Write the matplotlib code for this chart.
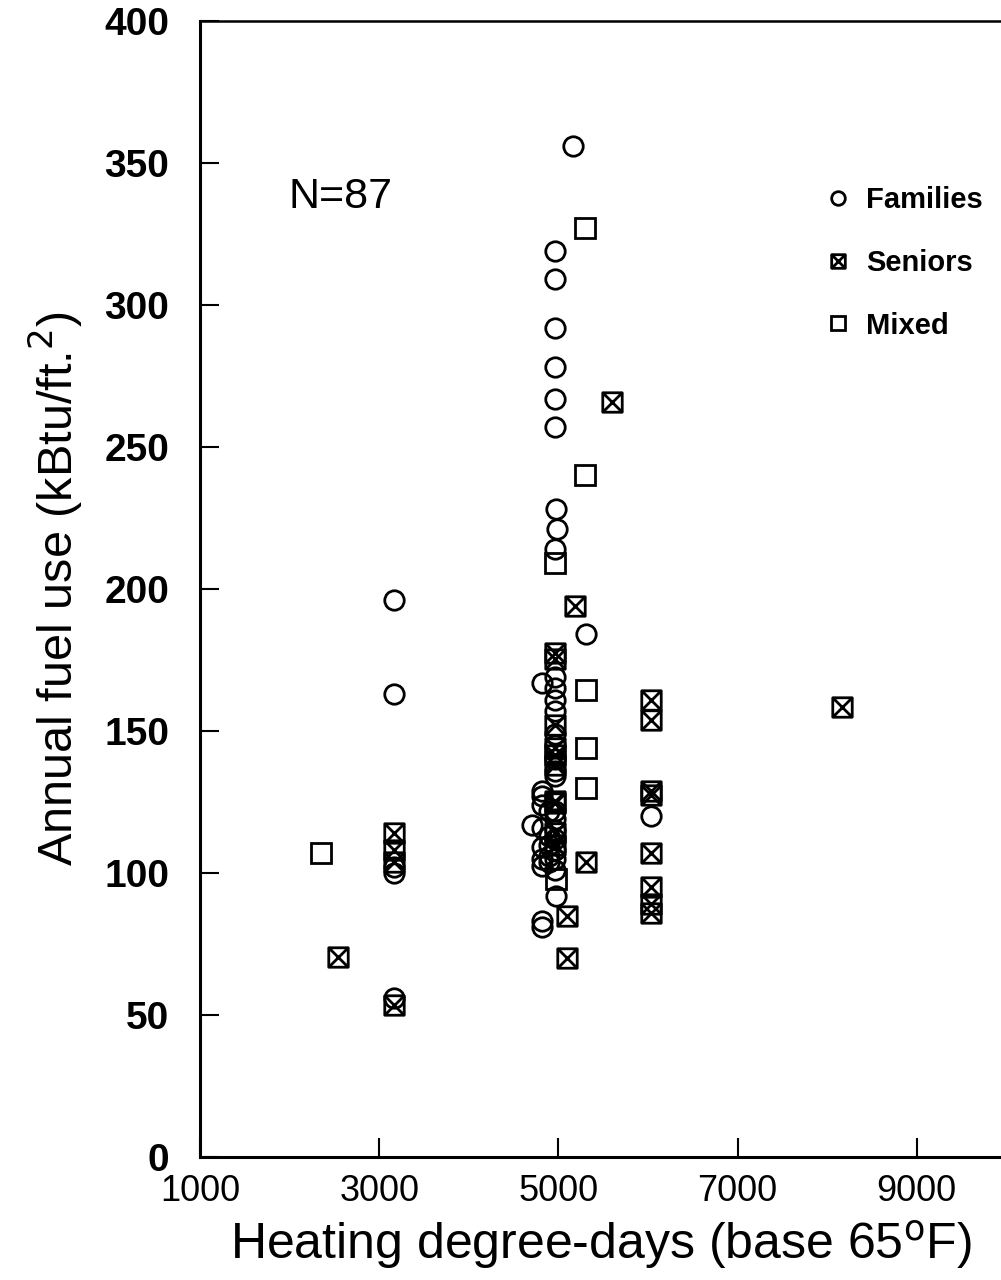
# Annual fuel use vs heating degree-days, scatter by household type (N=87)

import matplotlib
matplotlib.use("Agg")
import matplotlib.pyplot as plt
from matplotlib.path import Path
from matplotlib.markers import MarkerStyle

plt.rcParams["font.family"] = ["Liberation Sans", "DejaVu Sans"]

# Families (circles)
fam_x = [5160, 4960, 4960, 4960, 4960, 4960, 4960, 4970, 4980, 4960,
         5310, 3170, 3170, 3170, 3170, 3170, 6030,
         4960, 4960, 4960, 4960, 4960, 4960, 4960, 4960, 4960, 4960,
         4960, 4960, 4960, 4960, 4960, 4960, 4970,
         4820, 4820, 4820, 4820, 4820, 4820, 4820, 4820, 4820, 4820,
         4700, 4890, 4890, 4890, 4890, 4890]
fam_y = [356, 319, 309, 292, 278, 267, 257, 228, 221, 214,
         184, 196, 163, 102, 100, 56, 120,
         169, 165, 161, 157, 149, 145, 140, 136, 134, 122,
         119, 115, 112, 108, 105, 101, 92,
         167, 129, 127, 124, 116, 109, 105, 102.5, 83, 81,
         117, 122, 113, 110, 106, 104]

# Seniors (crossed squares)
sen_x = [6030, 6030, 6030, 6030, 6030, 6030, 6030, 6030,
         3170, 3170, 3170, 3170,
         2540, 8160, 5600, 5180, 5310, 5100, 5100,
         4960, 4960, 4960, 4960, 4960, 4960, 4960, 4960, 4960, 4960]
sen_y = [161, 154, 129, 127.5, 107, 95, 89, 86,
         114, 108, 104, 53.5,
         70.5, 158.5, 266, 194, 104, 85, 70,
         177.5, 175.5, 152, 144, 141.5, 138, 125.5, 124.5, 114, 110]

# Mixed (open squares)
mix_x = [5300, 5300, 4960, 5310, 5310, 5310, 2350, 4970]
mix_y = [327, 240, 209, 164.5, 144, 130, 107, 98]

x_ticks = [1000, 3000, 5000, 7000, 9000]
y_ticks = [0, 50, 100, 150, 200, 250, 300, 350, 400]

# square with an X through it
verts = [(-0.5, -0.5), (0.5, -0.5), (0.5, 0.5), (-0.5, 0.5), (-0.5, -0.5),
         (-0.5, -0.5), (0.5, 0.5), (-0.5, 0.5), (0.5, -0.5)]
codes = [Path.MOVETO, Path.LINETO, Path.LINETO, Path.LINETO, Path.CLOSEPOLY,
         Path.MOVETO, Path.LINETO, Path.MOVETO, Path.LINETO]
xsq = MarkerStyle(Path(verts, codes))

fig = plt.figure(figsize=(10.01, 12.8), dpi=100)
ax = fig.add_axes([200 / 1001, 1 - 1157 / 1280, 801 / 1001, 1136 / 1280])

kw = dict(linestyle="none", markerfacecolor="none", markeredgecolor="black",
          markeredgewidth=2.0, markersize=14)
ax.plot(fam_x, fam_y, marker="o", label="Families", **kw)
ax.plot(sen_x, sen_y, marker=xsq, label="Seniors", **kw)
ax.plot(mix_x, mix_y, marker="s", label="Mixed", **kw)

ax.set_xlim(1000, 9940)
ax.set_ylim(0, 400)
ax.set_xticks(x_ticks)
ax.set_yticks(y_ticks)
ax.tick_params(axis="both", direction="in", length=14, width=1.5)
ax.tick_params(axis="y", pad=22, labelsize=28)
ax.tick_params(axis="x", pad=12, labelsize=26)
for lab in ax.get_yticklabels():
    lab.set_fontweight("bold")

ax.spines["right"].set_visible(False)
ax.spines["left"].set_linewidth(2.2)
ax.spines["bottom"].set_linewidth(2.2)
ax.spines["top"].set_linewidth(1.8)

ax.set_xlabel("Heating degree-days (base 65$^{\\mathrm{o}}$F)", fontsize=36, labelpad=7)
ax.set_ylabel("Annual fuel use (kBtu/ft.$^{2}$)", fontsize=35, labelpad=14)

ax.text(0.11, 0.845, "N=87", transform=ax.transAxes, fontsize=31,
        ha="left", va="center")

ax.legend(frameon=False, loc="upper left", bbox_to_anchor=(0.778, 0.8545),
          borderpad=0, borderaxespad=0, handlelength=1.0, handletextpad=0.46,
          labelspacing=1.19, markerscale=0.7,
          prop={"size": 21, "weight": "bold"})

fig.savefig("out.png", dpi=100)
